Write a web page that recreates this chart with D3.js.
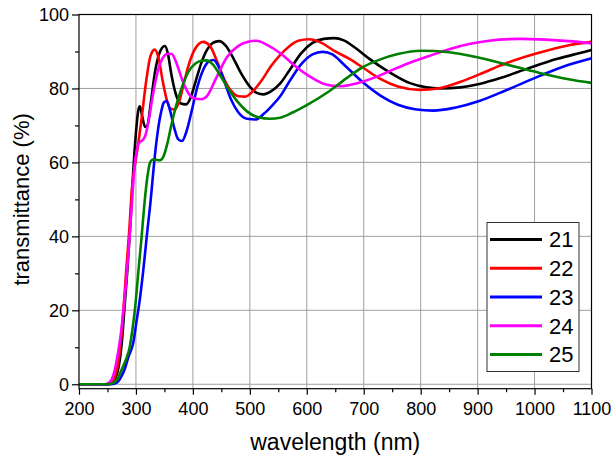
<!DOCTYPE html>
<html>
<head>
<meta charset="utf-8">
<script src="https://cdn.jsdelivr.net/npm/d3@7"></script>
<style>
  html, body { margin: 0; padding: 0; background: #fff; }
  svg { display: block; font-family: "Liberation Sans", Arial, sans-serif; }
</style>
</head>
<body>
<div id="main"></div>
<script>
// transmittance (%) vs wavelength (nm)
const xTicks = [200, 300, 400, 500, 600, 700, 800, 900, 1000, 1100];
const yTicks = [0, 20, 40, 60, 80, 100];
const seriesNames = ['21', '22', '23', '24', '25'];
const seriesColors = ['#000000', '#ff0000', '#0000ff', '#ff00ff', '#008000'];

const s21 = [[200,0],[250,0],[260,0.5],[265,2],[270,5],[275,11],[280,21],[285,31],[290,43],[295,57],[300,68],[304,74],[307,75.2],[311,72.5],[316,69.6],[320,70],[326,76],[333,84],[340,89],[346,91],[351,91.5],[356,89.5],[362,84],[370,78.5],[378,76],[388,75.7],[396,77.5],[405,82],[415,87],[425,90.5],[435,92.3],[446,92.8],[458,91.5],[470,88.5],[485,84],[500,80.5],[512,78.8],[524,78.4],[537,79.2],[553,81.3],[570,85],[590,89.5],[610,92.3],[630,93.4],[648,93.6],[665,93],[685,91],[710,88],[746,84.3],[780,81.5],[810,80.3],[835,80],[870,80.3],[903,81.2],[940,82.8],[990,85.5],[1040,88],[1080,89.6],[1100,90.4]];
const s22 = [[200,0],[250,0],[258,0.5],[263,2],[268,5],[273,11],[278,20],[283,31],[288,41],[293,53],[298,59],[303,64],[310,72],[318,82],[325,88.5],[333,90.5],[340,88],[347,82],[354,77],[361,74.5],[368,74.3],[376,76.5],[385,82],[395,87.5],[405,91],[418,92.6],[430,91.5],[442,87.5],[455,82.5],[468,79.2],[480,77.9],[492,77.8],[505,79.2],[520,82],[537,86],[553,89],[570,91.5],[585,92.9],[604,93.3],[625,92.4],[650,90],[675,88],[699,85.6],[730,82.5],[760,80.5],[798,79.6],[830,80],[870,81.8],[903,83.8],[950,86.8],[1009,89.7],[1060,91.7],[1100,92.6]];
const s23 = [[200,0],[255,0],[265,0.3],[272,1.5],[280,4],[287,7.5],[295,11],[301,17],[306,22],[313,31],[319,40],[326,50],[332,60],[338,68],[344,73.5],[349,76.2],[354,76.6],[360,74],[367,69.5],[374,66.3],[381,65.8],[389,68.5],[398,74],[408,80.5],[418,85],[428,87.3],[436,87.7],[445,86],[455,82],[467,77],[480,73.5],[495,71.8],[510,71.6],[525,73.2],[540,75.5],[553,77.8],[570,82],[590,86.5],[610,89.2],[628,89.9],[645,89.2],[665,86.5],[699,81.6],[730,78],[760,75.6],[790,74.4],[822,74],[860,74.8],[903,76.6],[950,79.5],[1009,83.4],[1060,86.4],[1100,88.2]];
const s24 = [[200,0],[245,0],[252,0.4],[258,1.5],[263,4],[268,8],[273,13],[278,20],[283,28],[288,38],[293,49],[297,58],[301,63],[305,65.2],[310,65.8],[316,67],[322,71],[330,78.5],[338,84.5],[347,88.2],[356,89.4],[363,89.3],[372,86.5],[382,82],[393,78.5],[405,77.2],[415,77.1],[425,78],[440,82.5],[460,88.5],[480,91.5],[497,92.6],[512,92.9],[530,91.8],[553,89.6],[580,86],[610,82.8],[635,81],[658,80.6],[690,81.5],[720,83],[750,85],[780,86.9],[815,88.8],[850,90.6],[885,92],[920,92.9],[974,93.4],[1020,93.2],[1060,92.8],[1100,92.2]];
const s25 = [[200,0],[250,0],[260,0.4],[268,1.5],[275,4],[282,6.5],[289,10],[294,15],[298,20],[304,30],[310,40],[315,49],[320,56],[325,60],[330,60.8],[336,60.7],[342,60.6],[348,61.5],[355,65],[362,70],[370,75],[380,80],[392,84.5],[405,86.8],[415,87.5],[424,87.6],[435,86.5],[448,83.5],[462,80],[478,76.5],[495,73.8],[515,72.2],[535,71.8],[553,72.1],[575,73.5],[600,75.5],[640,79.3],[670,82.8],[699,85.8],[728,87.8],[760,89.3],[801,90.2],[850,89.8],[903,88.3],[950,86.5],[1009,84.2],[1060,82.5],[1100,81.5]];

const allSeries = [s21, s22, s23, s24, s25];

document.addEventListener('DOMContentLoaded', () => {
  const width = 614, height = 464;
  const margin = { top: 14.5, right: 22.5, left: 79 };

  const sx = d3.scaleLinear().domain([200, 1100]).range([margin.left, width - margin.right]);
  const sy = d3.scaleLinear().domain([-1.2, 100]).range([388.7, margin.top]);

  const svg = d3.select('#main').append('svg')
    .attr('width', width).attr('height', height)
    .attr('viewBox', [0, 0, width, height]);

  const [x0, x1] = sx.range(), [yb, yt] = sy.range();

  // grid
  const grid = svg.append('g').attr('stroke', '#a0a0a0').attr('stroke-width', 1);
  grid.selectAll('line.gx').data(xTicks.slice(1, -1)).join('line')
    .attr('x1', d => sx(d)).attr('x2', d => sx(d))
    .attr('y1', yt).attr('y2', yb);
  grid.selectAll('line.gy').data(yTicks.slice(0, -1)).join('line')
    .attr('x1', x0).attr('x2', x1)
    .attr('y1', d => sy(d)).attr('y2', d => sy(d));

  // curves
  svg.append('clipPath').attr('id', 'clip')
    .append('rect').attr('x', x0).attr('y', yt).attr('width', x1 - x0).attr('height', yb - yt);

  const line = d3.line()
    .x(d => sx(d[0])).y(d => sy(d[1]))
    .curve(d3.curveMonotoneX);

  svg.append('g').attr('clip-path', 'url(#clip)')
    .selectAll('path').data(allSeries).join('path')
    .attr('d', line)
    .attr('fill', 'none')
    .attr('stroke', (d, i) => seriesColors[i])
    .attr('stroke-width', 2.6)
    .attr('stroke-linejoin', 'round');

  // frame
  svg.append('rect')
    .attr('x', x0).attr('y', yt).attr('width', x1 - x0).attr('height', yb - yt)
    .attr('fill', 'none').attr('stroke', '#000').attr('stroke-width', 1.2);

  // axes
  const ax = d3.axisBottom(sx).tickValues(xTicks).tickSize(6).tickPadding(8).tickFormat(d3.format('d'));
  const axm = d3.axisBottom(sx).tickValues(d3.range(250, 1100, 100)).tickSize(3.5).tickFormat('');
  const ay = d3.axisLeft(sy).tickValues(yTicks).tickSize(7).tickPadding(3);
  const aym = d3.axisLeft(sy).tickValues(d3.range(10, 100, 20)).tickSize(4).tickFormat('');

  const styleAxis = g => {
    g.select('.domain').remove();
    g.selectAll('line').attr('stroke', '#000').attr('stroke-width', 1.2);
    g.selectAll('text').attr('fill', '#000').style('font-size', '18px')
      .style('font-family', '"Liberation Sans", Arial, sans-serif');
  };

  svg.append('g').attr('transform', `translate(0,${yb})`).call(ax).call(styleAxis);
  svg.append('g').attr('transform', `translate(0,${yb})`).call(axm).call(styleAxis);
  svg.append('g').attr('transform', `translate(${x0},0)`).call(ay).call(styleAxis);
  svg.append('g').attr('transform', `translate(${x0},0)`).call(aym).call(styleAxis);

  // titles
  svg.append('text')
    .attr('x', (x0 + x1) / 2).attr('y', 450)
    .attr('text-anchor', 'middle').style('font-size', '23px')
    .text('wavelength (nm)');
  svg.append('text')
    .attr('transform', `translate(29,${(yt + sy(0)) / 2}) rotate(-90)`)
    .attr('text-anchor', 'middle').style('font-size', '22px')
    .text('transmittance (%)');

  // legend
  const lg = svg.append('g').attr('transform', 'translate(487,222.5)');
  lg.append('rect').attr('width', 92).attr('height', 149)
    .attr('fill', '#fff').attr('stroke', '#333').attr('stroke-width', 1);
  const rows = lg.selectAll('g').data(seriesNames).join('g')
    .attr('transform', (d, i) => `translate(0,${17 + i * 28.75})`);
  rows.append('line').attr('x1', 3).attr('x2', 55)
    .attr('stroke', (d, i) => seriesColors[i]).attr('stroke-width', 3);
  rows.append('text').attr('x', 62).attr('dy', '0.36em')
    .style('font-size', '22px').text(d => d);
});
</script>
</body>
</html>
